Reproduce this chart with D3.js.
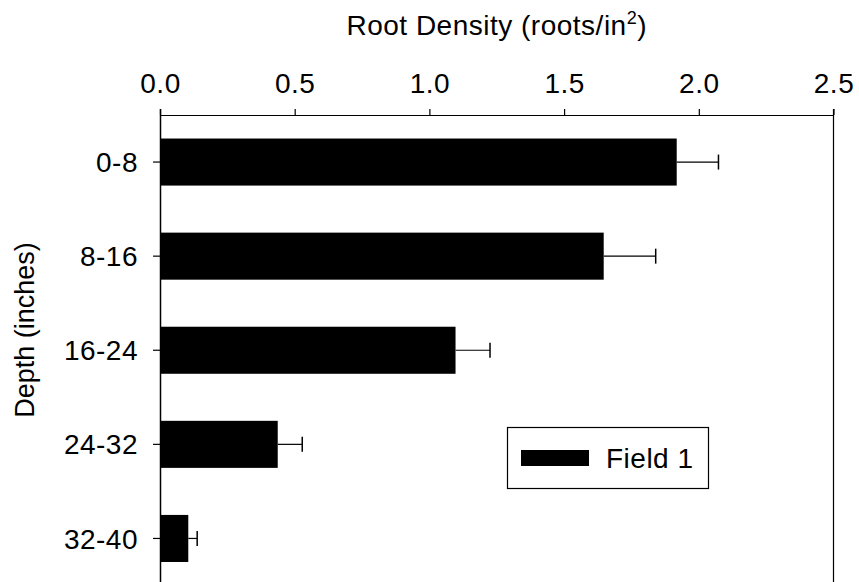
<!DOCTYPE html>
<html><head><meta charset="utf-8">
<script src="https://cdn.jsdelivr.net/npm/d3@7"></script>
<style>body{margin:0;background:#fff}svg{display:block}text{font-family:Arial,"Liberation Sans",sans-serif;fill:#000}</style>
</head><body><svg id="c" width="859" height="582"></svg>
<script>
const categories = ["0-8","8-16","16-24","24-32","32-40"];
const values = [1.918, 1.647, 1.097, 0.437, 0.105];
const errors = [0.155, 0.193, 0.128, 0.091, 0.033];
const xTicks = [0, 0.5, 1.0, 1.5, 2.0, 2.5];
const seriesName = "Field 1";

(function(){
const svg = d3.select("#c");
const pL = 160, pR = 833.5, pT = 115, pB = 582;
const x = d3.scaleLinear().domain([0, 2.5]).range([pL, pR]);
const y = d3.scaleBand().domain(categories).range([115, 585.5]).paddingInner(0.5).paddingOuter(0.25);

const fs = 28, ls = "0.5px";
const ff = "Arial,'Liberation Sans',sans-serif";
// bars
svg.append("g").selectAll("rect").data(values).join("rect")
  .attr("x", x(0)).attr("y", (d,i)=>y(categories[i]))
  .attr("width", d=>x(d)-x(0)).attr("height", y.bandwidth())
  .attr("fill", "#000");
// error bars
const eb = svg.append("g").attr("stroke","#000");
values.forEach((v,i)=>{
  const cy = y(categories[i]) + y.bandwidth()/2;
  eb.append("line").attr("x1", x(v)).attr("x2", x(v+errors[i])).attr("y1", cy).attr("y2", cy).attr("stroke-width",1.2);
  eb.append("line").attr("x1", x(v+errors[i])).attr("x2", x(v+errors[i])).attr("y1", cy-7.5).attr("y2", cy+7.5).attr("stroke-width",1.5);
});
// top axis
const xa = svg.append("g").attr("transform", `translate(0,${pT})`)
  .call(d3.axisTop(x).tickValues(xTicks).tickFormat(d3.format(".1f")).tickSize(6).tickSizeOuter(0));
xa.select(".domain").attr("stroke","#000").attr("stroke-width",1.2);
xa.selectAll(".tick line").attr("stroke","#000").attr("stroke-width",1.2);
xa.selectAll(".tick text").attr("font-size", fs).attr("font-family",ff).attr("letter-spacing",ls).attr("y",-22).attr("dy",0);
// left axis
const ya = svg.append("g").attr("transform", `translate(${pL},0)`)
  .call(d3.axisLeft(y).tickSize(7).tickSizeOuter(0));
ya.select(".domain").attr("d", `M0.5,${pT-6}V${pB}`).attr("stroke","#000").attr("stroke-width",1.5);
ya.selectAll(".tick line").attr("stroke","#000").attr("stroke-width",1.2);
ya.selectAll(".tick text").attr("font-size", fs).attr("font-family",ff).attr("letter-spacing",ls).attr("x",-22).attr("dy","0.36em");
// right border
svg.append("line").attr("x1", pR).attr("x2", pR).attr("y1", pT-6).attr("y2", pB).attr("stroke","#000").attr("stroke-width",1.2);
// title
const t = svg.append("text").attr("x", (pL+pR)/2).attr("y", 35).attr("text-anchor","middle").attr("font-size", fs).attr("letter-spacing",ls);
t.append("tspan").text("Root Density (roots/in");
t.append("tspan").text("2").attr("font-size", 18).attr("dy", -11);
t.append("tspan").text(")").attr("dy", 11);
// y label
svg.append("text").attr("transform", "translate(34,330) rotate(-90)").attr("text-anchor","middle").attr("font-size", 27).text("Depth (inches)");
// legend
const lg = svg.append("g");
lg.append("rect").attr("x",507.5).attr("y",427.5).attr("width",201).attr("height",61).attr("fill","#fff").attr("stroke","#000").attr("stroke-width",1.2);
lg.append("rect").attr("x",521).attr("y",450).attr("width",68).attr("height",16).attr("fill","#000");
lg.append("text").attr("x",606).attr("y",468).attr("font-size",fs).attr("letter-spacing",ls).text(seriesName);
})();
</script></body></html>
